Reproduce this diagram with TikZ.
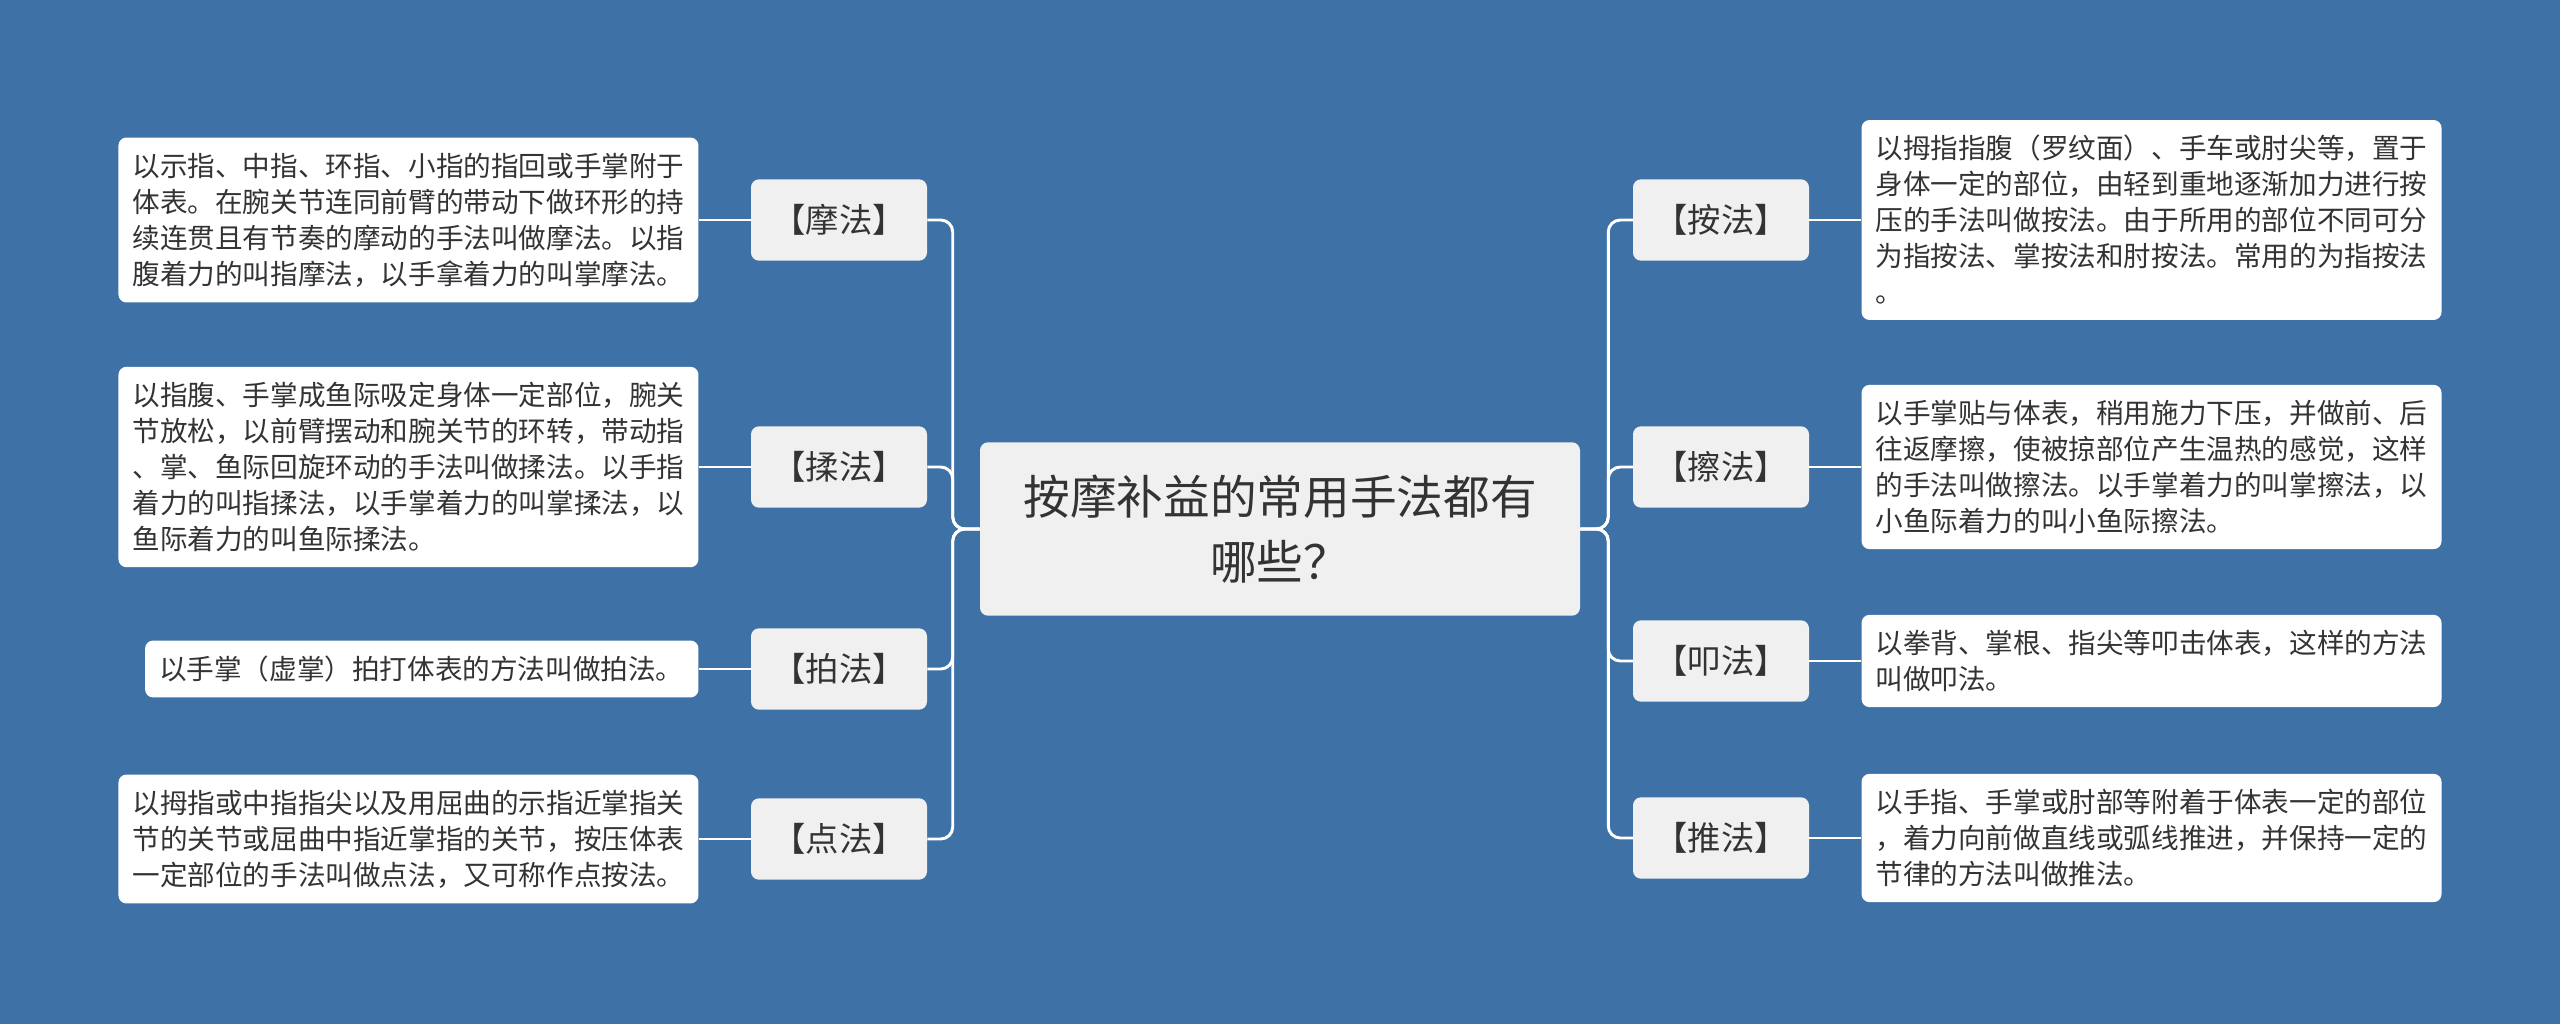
\documentclass[tikz,border=0pt]{standalone}
\usepackage{fontspec}
\setmainfont{Noto Sans CJK SC}
\usetikzlibrary{positioning}
\definecolor{bgblue}{HTML}{3E72A6}
\definecolor{boxgray}{HTML}{F0F0F0}
\definecolor{txtgray}{HTML}{333333}

\begin{document}
\begin{tikzpicture}[x=0.75pt, y=-0.75pt,
		every node/.style={text=txtgray},
		rootbox/.style={fill=boxgray, rounded corners=6pt, minimum width=450pt, minimum height=130pt, align=center, font=\fontsize{35}{49}\selectfont},
		tagbox/.style={fill=boxgray, rounded corners=6pt, minimum width=132pt, minimum height=61pt, inner sep=0pt, font=\fontsize{25}{30}\selectfont},
		leafbox/.style={fill=white, rounded corners=6pt, text width=414pt, align=left, inner xsep=10.5pt, inner ysep=11.5pt, font=\fontsize{20.7}{27}\selectfont},
		link/.style={draw=white, line width=2.2pt, rounded corners=9pt}]
	% 1. 背景
	\fill[bgblue] (0,0) rectangle (2560,1024);
	\useasboundingbox (0,0) rectangle (2560,1024);
	
	% 2. 中心主题
	\node[rootbox] (root) at (1280,529) {按摩补益的常用手法都有\\哪些？};
	
	% 3. 左侧分支
	\node[tagbox] (mofa) at (839,220) {【摩法】};
	\node[tagbox] (roufa) at (839,467) {【揉法】};
	\node[tagbox] (paifa) at (839,669) {【拍法】};
	\node[tagbox] (dianfa) at (839,839) {【点法】};
	
	\node[leafbox, left=39pt of mofa] (mofaText) {以示指、中指、环指、小指的指回或手掌附于\\体表。在腕关节连同前臂的带动下做环形的持\\续连贯且有节奏的摩动的手法叫做摩法。以指\\腹着力的叫指摩法，以手拿着力的叫掌摩法。};
	\node[leafbox, left=39pt of roufa] (roufaText) {以指腹、手掌成鱼际吸定身体一定部位，腕关\\节放松，以前臂摆动和腕关节的环转，带动指\\、掌、鱼际回旋环动的手法叫做揉法。以手指\\着力的叫指揉法，以手掌着力的叫掌揉法，以\\鱼际着力的叫鱼际揉法。};
	\node[leafbox, text width=394pt, left=39pt of paifa] (paifaText) {以手掌（虚掌）拍打体表的方法叫做拍法。};
	\node[leafbox, left=39pt of dianfa] (dianfaText) {以拇指或中指指尖以及用屈曲的示指近掌指关\\节的关节或屈曲中指近掌指的关节，按压体表\\一定部位的手法叫做点法，又可称作点按法。};
	
	% 4. 右侧分支
	\node[tagbox] (anfa) at (1721,220) {【按法】};
	\node[tagbox] (cafa) at (1721,467) {【擦法】};
	\node[tagbox] (koufa) at (1721,661) {【叩法】};
	\node[tagbox] (tuifa) at (1721,838) {【推法】};
	
	\node[leafbox, right=39pt of anfa] (anfaText) {以拇指指腹（罗纹面）、手车或肘尖等，置于\\身体一定的部位，由轻到重地逐渐加力进行按\\压的手法叫做按法。由于所用的部位不同可分\\为指按法、掌按法和肘按法。常用的为指按法\\。};
	\node[leafbox, right=39pt of cafa] (cafaText) {以手掌贴与体表，稍用施力下压，并做前、后\\往返摩擦，使被掠部位产生温热的感觉，这样\\的手法叫做擦法。以手掌着力的叫掌擦法，以\\小鱼际着力的叫小鱼际擦法。};
	\node[leafbox, right=39pt of koufa] (koufaText) {以拳背、掌根、指尖等叩击体表，这样的方法\\叫做叩法。};
	\node[leafbox, right=39pt of tuifa] (tuifaText) {以手指、手掌或肘部等附着于体表一定的部位\\，着力向前做直线或弧线推进，并保持一定的\\节律的方法叫做推法。};
	
	% 5. 连线
	\foreach \t in {mofa,roufa,paifa,dianfa} {
		\draw[link] (root.west) -- ++(-27,0) |- (\t.east);
		\draw[link] (\t.west) -- (\t Text.east);
	}
	\foreach \t in {anfa,cafa,koufa,tuifa} {
		\draw[link] (root.east) -- ++(28,0) |- (\t.west);
		\draw[link] (\t.east) -- (\t Text.west);
	}
\end{tikzpicture}
\end{document}
